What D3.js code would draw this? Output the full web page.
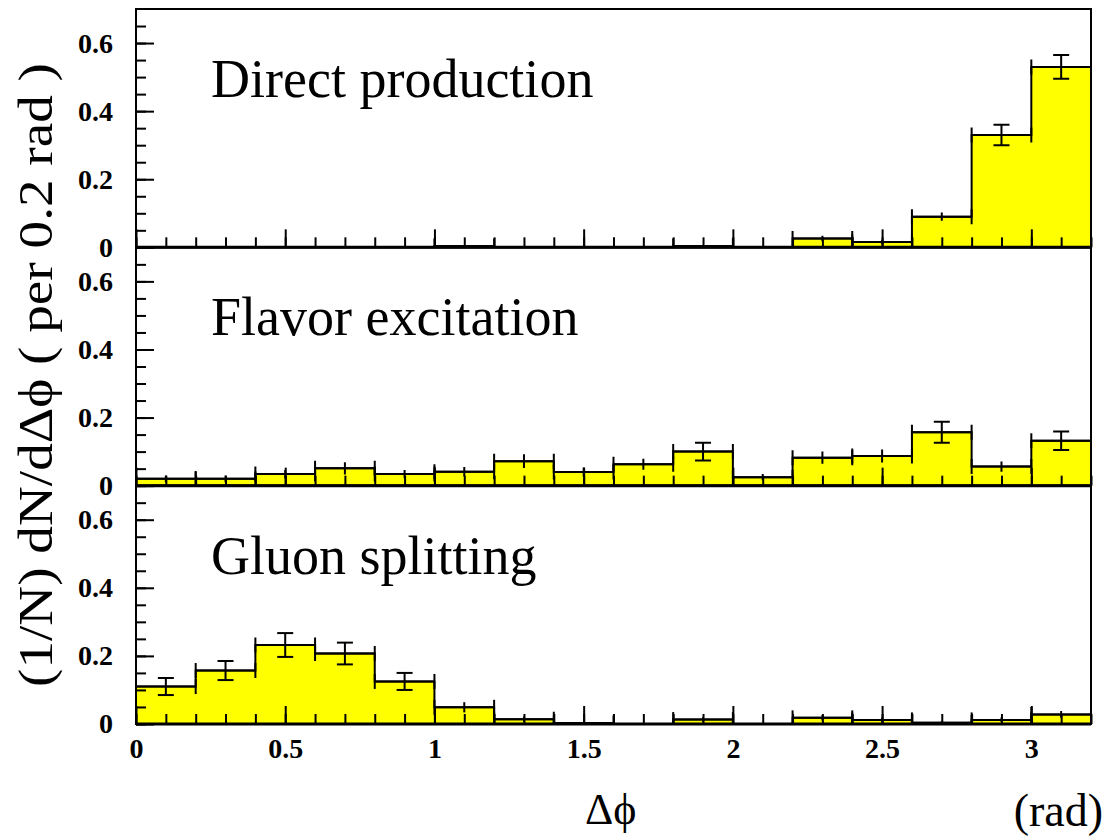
<!DOCTYPE html>
<html>
<head>
<meta charset="utf-8">
<script src="https://cdn.jsdelivr.net/npm/d3@7.9.0/dist/d3.min.js"></script>
<style>
  html, body { margin: 0; padding: 0; background: #fff; }
  svg { display: block; }
  text { font-family: 'Liberation Serif', 'Times New Roman', serif; fill: #000; }
</style>
</head>
<body>
<svg id="chart" width="1105" height="837"></svg>
<script>
// bin edges in rad (16 bins of 0.2)
const binEdges = [0, 0.2, 0.4, 0.6, 0.8, 1.0, 1.2, 1.4, 1.6, 1.8, 2.0, 2.2, 2.4, 2.6, 2.8, 3.0, 3.2];
const panelTitles = ['Direct production', 'Flavor excitation', 'Gluon splitting'];

const directValues = [0, 0, 0, 0, 0, 0.004, 0, 0, 0, 0.004, 0, 0.026, 0.016, 0.09, 0.33, 0.53];
const directErrors = [0, 0, 0, 0, 0, 0.003, 0, 0, 0, 0.003, 0, 0.008, 0.006, 0.012, 0.03, 0.035];

const flavorValues = [0.02, 0.02, 0.034, 0.051, 0.034, 0.041, 0.072, 0.04, 0.063, 0.10, 0.025, 0.082, 0.087, 0.157, 0.056, 0.132];
const flavorErrors = [0.01, 0.01, 0.012, 0.018, 0.012, 0.014, 0.02, 0.013, 0.016, 0.026, 0.009, 0.018, 0.019, 0.031, 0.015, 0.027];

const gluonValues = [0.11, 0.157, 0.232, 0.207, 0.125, 0.049, 0.014, 0.003, 0, 0.013, 0, 0.018, 0.012, 0.004, 0.012, 0.028];
const gluonErrors = [0.025, 0.028, 0.035, 0.032, 0.025, 0.015, 0.008, 0.003, 0, 0.007, 0, 0.008, 0.007, 0.004, 0.007, 0.01];

const xTickValues = [0, 0.5, 1, 1.5, 2, 2.5, 3];
const xTickLabels = ['0', '0.5', '1', '1.5', '2', '2.5', '3'];
const yTickValues = [0, 0.2, 0.4, 0.6];
const yTickLabels = ['0', '0.2', '0.4', '0.6'];

const panels = [
  { title: panelTitles[0], values: directValues, errors: directErrors },
  { title: panelTitles[1], values: flavorValues, errors: flavorErrors },
  { title: panelTitles[2], values: gluonValues, errors: gluonErrors }
];

const svg = d3.select('#chart');
const left = 136, right = 1091;
const top0 = 9, panelH = 238.33;
const capPx = 7.5;

let x = d3.scaleLinear().domain([0, 3.2]).range([left, right]);

panels.forEach((p, i) => {
  let pTop = top0 + i * panelH;
  let pBot = pTop + panelH;
  let y = d3.scaleLinear().domain([0, 0.7]).range([pBot, pTop]);

  let g = svg.append('g');
  let clipId = 'clip' + i;
  svg.append('clipPath').attr('id', clipId)
    .append('rect')
    .attr('x', left).attr('y', pTop)
    .attr('width', right - left).attr('height', panelH);

  let bins = p.values.map((v, k) => ({
    lo: binEdges[k], hi: binEdges[k + 1], v: v, e: p.errors[k]
  }));

  let pts = [[0, 0]];
  bins.forEach(b => { pts.push([b.lo, b.v]); pts.push([b.hi, b.v]); });
  pts.push([3.2, 0]);

  let line = d3.line().x(d => x(d[0])).y(d => y(d[1]));

  let body = g.append('g').attr('clip-path', `url(#${clipId})`);

  body.append('path')
    .attr('d', line(pts) + 'Z')
    .attr('fill', '#ffff00')
    .attr('stroke', 'none');

  body.append('path')
    .attr('d', line(pts))
    .attr('fill', 'none')
    .attr('stroke', '#000')
    .attr('stroke-width', 2);

  // E1-style error bars
  let eb = body.append('g').attr('stroke', '#000').attr('stroke-width', 2);
  bins.filter(b => b.v > 0).forEach(b => {
    let cx = x((b.lo + b.hi) / 2);
    let yv = y(b.v);
    eb.append('line').attr('x1', x(b.lo)).attr('x2', x(b.hi)).attr('y1', yv).attr('y2', yv);
    eb.append('line').attr('x1', x(b.lo)).attr('x2', x(b.lo)).attr('y1', yv - capPx).attr('y2', yv + capPx);
    eb.append('line').attr('x1', x(b.hi)).attr('x2', x(b.hi)).attr('y1', yv - capPx).attr('y2', yv + capPx);
    eb.append('line').attr('x1', cx).attr('x2', cx).attr('y1', y(b.v + b.e)).attr('y2', y(b.v - b.e));
    if (y(b.v - b.e) - y(b.v + b.e) > 2 * capPx) {
      [b.v + b.e, b.v - b.e].forEach(ev => {
        eb.append('line').attr('x1', cx - 8).attr('x2', cx + 8).attr('y1', y(ev)).attr('y2', y(ev));
      });
    }
  });

  // y axis: minor then major ticks, pointing inward
  g.append('g')
    .attr('transform', `translate(${left},0)`)
    .call(d3.axisLeft(y).tickValues(d3.range(0, 14).map(k => k * 0.05)).tickSize(-10).tickFormat(''))
    .call(a => a.select('.domain').remove())
    .selectAll('line').attr('stroke', '#000').attr('stroke-width', 2);

  let yAx = g.append('g')
    .attr('transform', `translate(${left},0)`)
    .call(d3.axisLeft(y).tickValues(yTickValues).tickSize(-18).tickPadding(23)
      .tickFormat((d, k) => yTickLabels[k]))
    .call(a => a.select('.domain').remove());
  yAx.selectAll('line').attr('stroke', '#000').attr('stroke-width', 2);
  yAx.selectAll('text')
    .style('font-family', "'Liberation Serif', serif")
    .style('font-size', '28px')
    .style('font-weight', 'bold');

  // x axis ticks along each panel bottom
  g.append('g')
    .attr('transform', `translate(0,${pBot})`)
    .call(d3.axisBottom(x).tickValues(d3.range(0, 33).map(k => k * 0.1)).tickSize(-10).tickFormat(''))
    .call(a => a.select('.domain').remove())
    .selectAll('line').attr('stroke', '#000').attr('stroke-width', 2);

  let xAx = g.append('g')
    .attr('transform', `translate(0,${pBot})`)
    .call(d3.axisBottom(x).tickValues(xTickValues).tickSize(-18).tickPadding(14)
      .tickFormat((d, k) => i === panels.length - 1 ? xTickLabels[k] : ''))
    .call(a => a.select('.domain').remove());
  xAx.selectAll('line').attr('stroke', '#000').attr('stroke-width', 2);
  xAx.selectAll('text')
    .style('font-family', "'Liberation Serif', serif")
    .style('font-size', '28px')
    .style('font-weight', 'bold');

  // frame
  g.append('rect')
    .attr('x', left).attr('y', pTop)
    .attr('width', right - left).attr('height', panelH)
    .attr('fill', 'none').attr('stroke', '#000').attr('stroke-width', 2);
  g.append('line')
    .attr('x1', left).attr('x2', right).attr('y1', pBot).attr('y2', pBot)
    .attr('stroke', '#000').attr('stroke-width', 3);

  g.append('text')
    .attr('x', 211).attr('y', pTop + 88)
    .style('font-size', '54px')
    .text(p.title);
});

// axis titles
svg.append('text')
  .attr('transform', 'translate(52,375) rotate(-90)')
  .attr('text-anchor', 'middle')
  .attr('textLength', 624)
  .attr('lengthAdjust', 'spacingAndGlyphs')
  .style('font-size', '48px')
  .text('(1/N) dN/dΔϕ  ( per 0.2 rad )');

svg.append('text')
  .attr('x', 585).attr('y', 824)
  .style('font-size', '44px')
  .text('Δϕ');

svg.append('text')
  .attr('x', 1103).attr('y', 826)
  .attr('text-anchor', 'end')
  .style('font-size', '46px')
  .text('(rad)');
</script>
</body>
</html>
